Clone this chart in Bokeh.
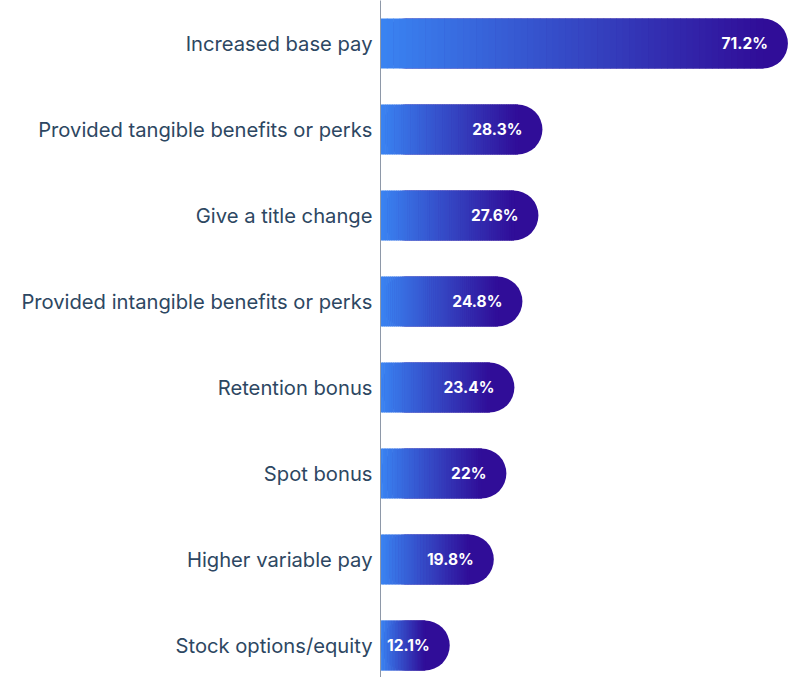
from bokeh.plotting import figure
from bokeh.models import Range1d, FixedTicker, ColumnDataSource
from bokeh.core.properties import value
from bokeh.embed import file_html
from bokeh.resources import INLINE

categories = ["Increased base pay", "Provided tangible benefits or perks", "Give a title change",
              "Provided intangible benefits or perks", "Retention bonus", "Spot bonus",
              "Higher variable pay", "Stock options/equity"]
values = [71.2, 28.3, 27.6, 24.8, 23.4, 22, 19.8, 12.1]
value_labels = ["71.2%", "28.3%", "27.6%", "24.8%", "23.4%", "22%", "19.8%", "12.1%"]

n = len(categories)
ypos = [n - 1 - i for i in range(n)]

W, H = 788, 677
LEFT = 380
X_END = 71.3
frame_w = W - LEFT
sx = frame_w / X_END
bar_h = 0.58
radius_px = 25
r_units = radius_px / sx

c0 = (58, 132, 242)
c1 = (48, 13, 152)

def mix(t):
    t = max(0.0, min(1.0, t))
    return "#%02x%02x%02x" % tuple(int(round(a + (b - a) * t)) for a, b in zip(c0, c1))

p = figure(width=W, height=H, output_backend="svg", toolbar_location=None,
           x_range=Range1d(0, X_END), y_range=Range1d(-0.372, 7.5),
           x_axis_location=None, min_border=0, min_border_left=LEFT,
           background_fill_color="white", border_fill_color="white")
p.outline_line_color = None
p.grid.visible = False

# rounded cap base bars
p.hbar(y=ypos, left=0, right=values, height=bar_h, fill_color=mix(1.0),
       line_color=None, border_radius=radius_px)

# gradient slices
N = 60
sl_y, sl_l, sl_r, sl_c = [], [], [], []
for yv, v in zip(ypos, values):
    g_end = v - r_units
    for k in range(N):
        a = g_end * k / N
        b = g_end * (k + 1) / N
        sl_y.append(yv)
        sl_l.append(a)
        sl_r.append(b + (0.6 / sx))
        sl_c.append(mix((a + b) / 2 / g_end))
src = ColumnDataSource(dict(y=sl_y, left=sl_l, right=sl_r, color=sl_c))
p.hbar(y="y", left="left", right="right", height=bar_h, fill_color="color",
       line_color=None, source=src)

p.text(x=values, y=ypos, text=value_labels, text_align="right", text_baseline="middle",
       x_offset=-20, text_color="white", text_font=value("Inter"),
       text_font_size="15.5px", text_font_style="bold")

ax = p.yaxis[0]
ax.ticker = FixedTicker(ticks=ypos)
ax.major_label_overrides = {yv: c for yv, c in zip(ypos, categories)}
ax.major_tick_line_color = None
ax.minor_tick_line_color = None
ax.major_tick_out = 0
ax.major_tick_in = 0
ax.major_label_standoff = 8
ax.major_label_text_font = "Inter"
ax.major_label_text_font_size = "20.2px"
ax.major_label_text_color = "#2d4762"
ax.axis_line_color = "#8e98a8"
ax.axis_line_width = 1

open("out.html", "w").write(file_html(p, INLINE))
